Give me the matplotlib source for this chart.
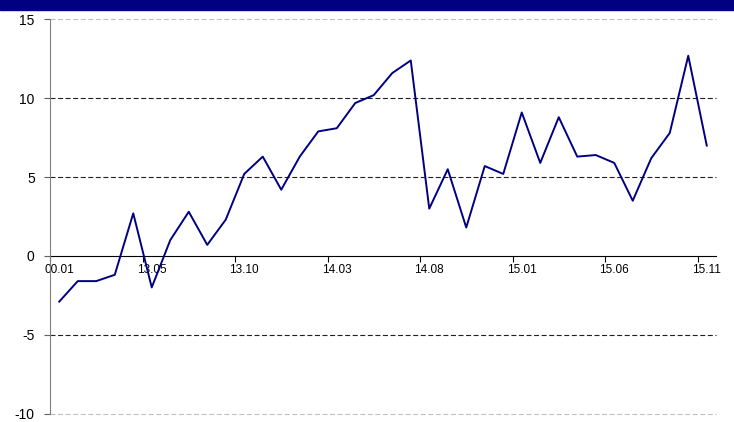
import matplotlib
matplotlib.use('Agg')
import matplotlib.pyplot as plt
from matplotlib.patches import Rectangle

# Chart data (monthly values, first label as shown in the source)
labels = ['00.01'] + ['%02d.%02d' % (y, m) for y in (13, 14, 15) for m in range(1, 13)][:35]
values = [-2.9, -1.6, -1.6, -1.2, 2.7, -2.0, 1.0, 2.8, 0.7, 2.3,
          5.2, 6.3, 4.2, 6.3, 7.9, 8.1, 9.7, 10.2, 11.6, 12.4,
          3.0, 5.5, 1.8, 5.7, 5.2, 9.1, 5.9, 8.8, 6.3, 6.4,
          5.9, 3.5, 6.2, 7.8, 12.7, 7.0]
y_ticks = [-10, -5, 0, 5, 10, 15]

LINE_COLOR = '#000080'
FONT = 'Liberation Sans'

fig = plt.figure(figsize=(7.34, 4.22), dpi=100)
fig.patches.append(Rectangle((0, 1 - 10 / 422), 1, 10 / 422, transform=fig.transFigure,
                             color='#000080', zorder=0))

ax = fig.add_axes([50 / 734, 8.5 / 422, 666 / 734, 394 / 422])
x = list(range(len(values)))

# Gridlines, the outer ones lighter
for yv in y_ticks:
    if yv == 0:
        continue
    col = '#c0c0c0' if yv in (y_ticks[0], y_ticks[-1]) else '#202020'
    ax.axhline(yv, color=col, lw=0.8, linestyle=(0, (4.5, 2.3)), zorder=1, clip_on=False)

ax.plot(x, values, color=LINE_COLOR, lw=1.4, zorder=3)

ax.set_xlim(-0.5, len(values) - 0.5)
ax.set_ylim(y_ticks[0], y_ticks[-1])

for s in ('top', 'right'):
    ax.spines[s].set_visible(False)
ax.spines['left'].set_color('#808080')
ax.spines['left'].set_zorder(4)
ax.spines['bottom'].set_position(('data', 0))
ax.spines['bottom'].set_color('black')

ax.set_yticks(y_ticks)
ax.set_yticklabels([str(v) for v in y_ticks], fontname=FONT, fontsize=10)
ax.tick_params(axis='y', length=4, width=0.8, color='#606060', pad=7)

# labels every 5 months, on the category centres; tick marks on the boundaries
ax.set_xticks(x[::5])
ax.set_xticklabels(labels[::5], fontname=FONT, fontsize=8.5)
ax.tick_params(axis='x', which='major', length=0, pad=6)
ax.set_xticks([i - 0.5 for i in x[::5]], minor=True)
ax.tick_params(axis='x', which='minor', length=4, width=0.8, color='black')

fig.savefig('out.png', dpi=100)
